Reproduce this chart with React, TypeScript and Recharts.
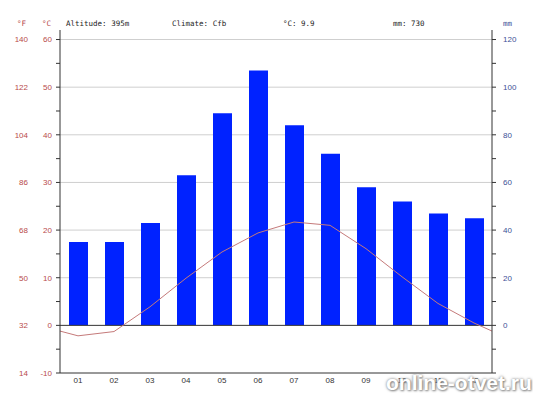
import {
  ComposedChart,
  Bar,
  Line,
  XAxis,
  YAxis,
  CartesianGrid,
  ReferenceLine,
} from 'recharts';

const months = ['01', '02', '03', '04', '05', '06', '07', '08', '09', '10', '11', '12'];
const precipitation = [35, 35, 43, 63, 89, 107, 84, 72, 58, 52, 47, 45];
const temperature = [-2.2, -1.3, 3.9, 9.9, 15.4, 19.4, 21.7, 21.0, 16.1, 10.2, 4.6, 0.5];
// line runs on to the plot edges in the original
const edgeTemp = -1.2;

const celsiusTicks = [-10, -5, 0, 5, 10, 15, 20, 25, 30, 35, 40, 45, 50, 55, 60];
const fahrenheitTicks = [14, 32, 50, 68, 86, 104, 122, 140];
const mmTicks = [-20, -10, 0, 10, 20, 30, 40, 50, 60, 70, 80, 90, 100, 110, 120];
const gridValues = [10, 20, 30, 40, 50, 60];

const barData = months.map((m, i) => ({ month: m, mm: precipitation[i] }));
const lineData = [
  { x: 0.5, t: edgeTemp },
  ...months.map((m, i) => ({ x: i + 1, t: temperature[i] })),
  { x: 12.5, t: edgeTemp },
];
const boundaryTicks = months.slice(1).map((_, i) => i + 1.5);

const red = '#b84a4a';
const blue = '#3d4f96';
const axisColor = '#333';
const tickFont = { fontSize: 8, fontFamily: 'Liberation Sans, Arial, sans-serif' };
const headFont = { fontSize: 7.5, fontFamily: 'DejaVu Sans Mono, monospace', color: '#222' };

const head = (left: number, text: string, style: object = {}) => (
  <div style={{ position: 'absolute', left, top: 19, lineHeight: '10px', whiteSpace: 'pre', ...headFont, ...style }}>
    {text}
  </div>
);

export default function App() {
  return (
    <div style={{ position: 'absolute', left: 0, top: 0, width: 533, height: 400, background: '#fff' }}>
      <ComposedChart
        width={533}
        height={400}
        data={barData}
        margin={{ top: 30, right: 11, bottom: 7, left: 16 }}
      >
        <CartesianGrid
          xAxisId="cat"
          yAxisId="c"
          vertical={false}
          horizontalValues={gridValues}
          stroke="#cfcfcf"
        />
        <XAxis
          xAxisId="num"
          type="number"
          dataKey="x"
          domain={[0.5, 12.5]}
          allowDataOverflow
          ticks={boundaryTicks}
          tickFormatter={() => ''}
          mirror
          height={0}
          axisLine={false}
          tickSize={3}
          stroke={axisColor}
        />
        <XAxis
          xAxisId="cat"
          dataKey="month"
          height={20}
          tickLine={false}
          tickSize={0}
          tickMargin={4}
          stroke={axisColor}
          tick={{ ...tickFont, fill: '#333' }}
          interval={0}
        />
        <YAxis
          yAxisId="c"
          domain={[-10, 62]}
          allowDataOverflow
          ticks={celsiusTicks}
          interval={0}
          width={22}
          tickSize={4}
          tickMargin={4}
          stroke={axisColor}
          tick={{ ...tickFont, fill: red }}
          tickFormatter={(v: number) => (v % 10 === 0 ? String(v) : '')}
        />
        <YAxis
          yAxisId="f"
          domain={[14, 143.6]}
          allowDataOverflow
          ticks={fahrenheitTicks}
          interval={0}
          width={22}
          axisLine={false}
          tickLine={false}
          tickSize={0}
          tickMargin={10}
          tick={{ ...tickFont, fill: red }}
        />
        <YAxis
          yAxisId="mm"
          orientation="right"
          domain={[-20, 124]}
          allowDataOverflow
          ticks={mmTicks}
          interval={0}
          width={30}
          tickSize={4}
          tickMargin={7}
          stroke={axisColor}
          tick={{ ...tickFont, fill: blue, textAnchor: 'start' }}
          tickFormatter={(v: number) => (v >= 0 && v % 20 === 0 ? String(v) : '')}
        />
        <Bar
          xAxisId="cat"
          yAxisId="mm"
          dataKey="mm"
          fill="#0022ff"
          barSize={19}
          isAnimationActive={false}
        />
        <ReferenceLine xAxisId="cat" yAxisId="c" y={0} stroke={axisColor} />
        <Line
          xAxisId="num"
          yAxisId="c"
          data={lineData}
          dataKey="t"
          type="linear"
          stroke="#c57a7a"
          strokeWidth={1}
          dot={false}
          isAnimationActive={false}
        />
      </ComposedChart>
      {head(17, '°F', { color: red })}
      {head(42, '°C', { color: red })}
      {head(66, 'Altitude: 395m')}
      {head(172, 'Climate: Cfb')}
      {head(283, '°C: 9.9')}
      {head(393, 'mm: 730')}
      {head(503, 'mm', { color: blue })}
      <div
        style={{
          position: 'absolute',
          left: 386,
          top: 371,
          fontSize: 21,
          fontWeight: 'bold',
          fontFamily: 'Liberation Sans, Arial, sans-serif',
          color: '#fff',
          textShadow: '0 0 3px #777, 1px 1px 2px #999',
          lineHeight: '24px',
        }}
      >
        online-otvet.ru
      </div>
    </div>
  );
}
